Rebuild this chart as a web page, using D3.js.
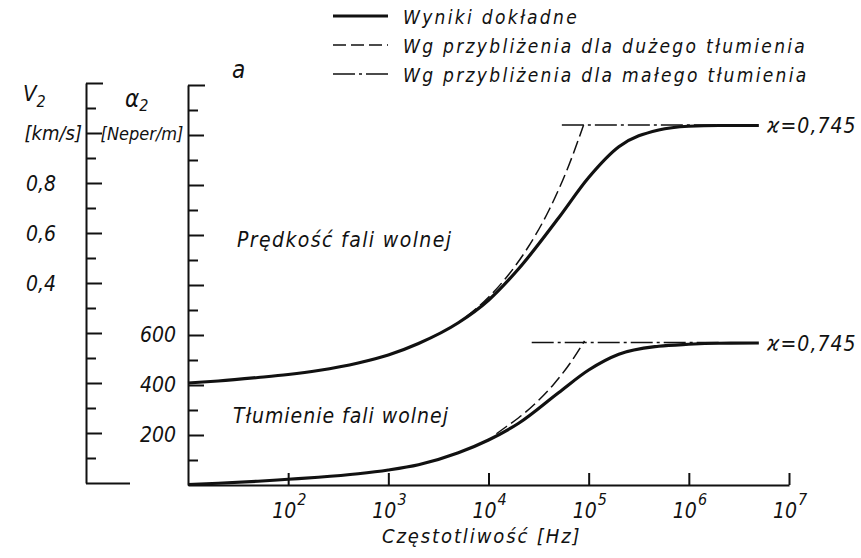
<!DOCTYPE html>
<html>
<head>
<meta charset="utf-8">
<script src="https://cdn.jsdelivr.net/npm/d3@7"></script>
<style>
  body { margin: 0; background: #fff; }
  text { font-family: "DejaVu Sans Condensed", "DejaVu Sans", sans-serif; font-style: italic; fill: #111; }
</style>
</head>
<body>
<div id="chart"></div>
<script>
// frequency grid [Hz] for the exact results
var freq = [10, 20, 50, 100, 200, 500, 1e3, 2e3, 5e3, 1e4, 2e4, 5e4, 1e5, 2e5, 5e5, 1e6, 2e6, 5e6];
// slow wave velocity [km/s]
var velocity = [0, 0.008, 0.022, 0.034, 0.05, 0.08, 0.112, 0.158, 0.241, 0.331, 0.457, 0.66, 0.822, 0.945, 1.012, 1.027, 1.03, 1.03];
// slow wave attenuation [Neper/m]
var attenuation = [2, 7, 15, 23, 31, 45, 60, 81, 129, 180, 247, 369, 460, 523, 555, 563, 567, 568];

// high damping approximation
var velHighFreq = [6e3, 1e4, 1.6e4, 2.5e4, 4e4, 6.3e4, 8.9e4];
var velHigh = [0.265, 0.343, 0.435, 0.545, 0.69, 0.868, 1.032];
var attHighFreq = [1.2e4, 1.5e4, 2e4, 3e4, 4.5e4, 6.5e4, 9.1e4];
var attHigh = [205, 233, 269, 330, 404, 486, 576];

// low damping approximation (asymptotes)
var velLowFreq = [5.4e4, 2e6];
var velLow = [1.032, 1.032];
var attLowFreq = [2.7e4, 2e6];
var attLow = [570, 570];

var xTicks = [1e2, 1e3, 1e4, 1e5, 1e6, 1e7];
var vTicks = d3.range(-4, 13).map(function (d) { return d / 10; });
var vLabels = [0.8, 0.6, 0.4];
var aTicks = d3.range(0, 1700, 100);
var aLabels = [600, 400, 200];
var kappaLabel = "ϰ=0,745";

var legendItems = [
    {name: "Wyniki dokładne", dash: null, w: 3},
    {name: "Wg przybliżenia dla dużego tłumienia", dash: "13,5", w: 1.5},
    {name: "Wg przybliżenia dla małego tłumienia", dash: "22,4,3,4", w: 1.5}];

var setWidth = 861, setHeight = 558;
var margin = {top: 85, left: 188};
var width = 601, height = 400;

var svg = d3.select("#chart")
    .append("svg")
    .attr("width", setWidth)
    .attr("height", setHeight)
    .append("g")
    .attr("transform", "translate(" + margin.left + "," + margin.top + ")");

var x = d3.scaleLog().domain([10, 1e7]).range([0, width]);
var yA = d3.scaleLinear().domain([0, 1600]).range([height, 0]);
var yV = d3.scaleLinear().domain([-0.4, 1.2]).range([height - 2, -2]);

var comma = d3.formatLocale({decimal: ",", thousands: " ", grouping: [3], currency: ["", ""]}).format(".1f");

// x axis
var xAxis = svg.append("g")
    .attr("transform", "translate(0," + height + ")")
    .call(d3.axisTop(x).tickValues(xTicks).tickSize(12).tickSizeOuter(0).tickFormat(""));
xAxis.selectAll("path, line").attr("stroke", "#111").attr("stroke-width", 2);

xTicks.forEach(function (v) {
    var t = svg.append("text")
        .attr("x", x(v) - 16)
        .attr("y", height + 33)
        .style("font-size", "21px")
        .text("10");
    t.append("tspan")
        .attr("dy", -13)
        .attr("dx", 1)
        .style("font-size", "16px")
        .text(Math.round(Math.log10(v)));
});

svg.append("text")
    .attr("x", 194)
    .attr("y", height + 58)
    .style("font-size", "20px")
    .style("letter-spacing", "1.9px")
    .text("Częstotliwość [Hz]");

// attenuation axis
var aAxis = svg.append("g")
    .call(d3.axisRight(yA).tickValues(aTicks).tickSizeOuter(0).tickFormat(""));
aAxis.selectAll(".tick line")
    .attr("x2", function (d) { return d == 1600 ? 17 : (d % 200 == 0 ? 16 : 10); })
    .filter(function (d) { return d == 0; }).remove();
aAxis.selectAll("path, line").attr("stroke", "#111").attr("stroke-width", 2);

aLabels.forEach(function (v) {
    svg.append("text")
        .attr("x", -12)
        .attr("y", yA(v) + 7)
        .attr("text-anchor", "end")
        .style("font-size", "21px")
        .text(v);
});

// velocity axis
var vAxis = svg.append("g")
    .attr("transform", "translate(-102,0)")
    .call(d3.axisRight(yV).tickValues(vTicks).tickSizeOuter(0).tickFormat(""));
vAxis.selectAll(".tick line")
    .attr("x2", function (d) {
        var k = Math.round(d * 10);
        if (k == -4) return 44;
        if (k == 12) return 17;
        return k % 2 == 0 ? 16 : 10;
    });
vAxis.selectAll("path, line").attr("stroke", "#111").attr("stroke-width", 2);

vLabels.forEach(function (v) {
    svg.append("text")
        .attr("x", -132)
        .attr("y", yV(v) + 8)
        .attr("text-anchor", "end")
        .style("font-size", "21px")
        .text(comma(v));
});

// axis titles
var vt = svg.append("text").attr("x", -165).attr("y", 16).style("font-size", "22px").text("V");
vt.append("tspan").attr("dy", 6).style("font-size", "16px").text("2");
svg.append("text").attr("x", -106).attr("y", 55).attr("text-anchor", "end")
    .style("font-size", "20px").text("[km/s]");
var at = svg.append("text").attr("x", -63).attr("y", 22).style("font-size", "24px").text("α");
at.append("tspan").attr("dy", 4).style("font-size", "16px").text("2");
svg.append("text").attr("x", -46).attr("y", 55).attr("text-anchor", "middle")
    .style("font-size", "18px").text("[Neper/m]");
svg.append("text").attr("x", 44).attr("y", -7).style("font-size", "24px").text("a");

// curves
var line = d3.line()
    .x(function (d) { return x(d[0]); })
    .y(function (d) { return d[1]; })
    .curve(d3.curveMonotoneX);

function draw(fs, vs, scale, dash, w) {
    svg.append("path")
        .datum(fs.map(function (f, i) { return [f, scale(vs[i])]; }))
        .attr("d", line)
        .attr("fill", "none")
        .attr("stroke", "#111")
        .attr("stroke-width", w)
        .attr("stroke-dasharray", dash);
}

draw(velLowFreq, velLow, yV, "22,4,3,4", 1.5);
draw(attLowFreq, attLow, yA, "22,4,3,4", 1.5);
draw(velHighFreq, velHigh, yV, "13,5", 1.5);
draw(attHighFreq, attHigh, yA, "13,5", 1.5);
draw(freq, velocity, yV, null, 3.2);
draw(freq, attenuation, yA, null, 3.2);

svg.append("text").attr("x", 49).attr("y", 162).style("font-size", "21px")
    .style("letter-spacing", "1.4px").text("Prędkość fali wolnej");
svg.append("text").attr("x", 45).attr("y", 338).style("font-size", "21px")
    .style("letter-spacing", "1px").text("Tłumienie fali wolnej");

svg.append("text").attr("x", 579).attr("y", yV(1.032) + 8).style("font-size", "21px")
    .style("letter-spacing", "1px").text(kappaLabel);
svg.append("text").attr("x", 579).attr("y", yA(570) + 8).style("font-size", "21px")
    .style("letter-spacing", "1px").text(kappaLabel);

// legend
var legend = svg.append("g").attr("transform", "translate(145,-69)");
legendItems.forEach(function (d, i) {
    legend.append("line")
        .attr("x1", 0).attr("x2", 55)
        .attr("y1", i * 29).attr("y2", i * 29)
        .attr("stroke", "#111")
        .attr("stroke-width", d.w)
        .attr("stroke-dasharray", d.dash);
    legend.append("text")
        .attr("x", 70)
        .attr("y", i * 29 + 8)
        .style("font-size", "19px")
        .style("letter-spacing", "2.3px")
        .text(d.name);
});
</script>
</body>
</html>
